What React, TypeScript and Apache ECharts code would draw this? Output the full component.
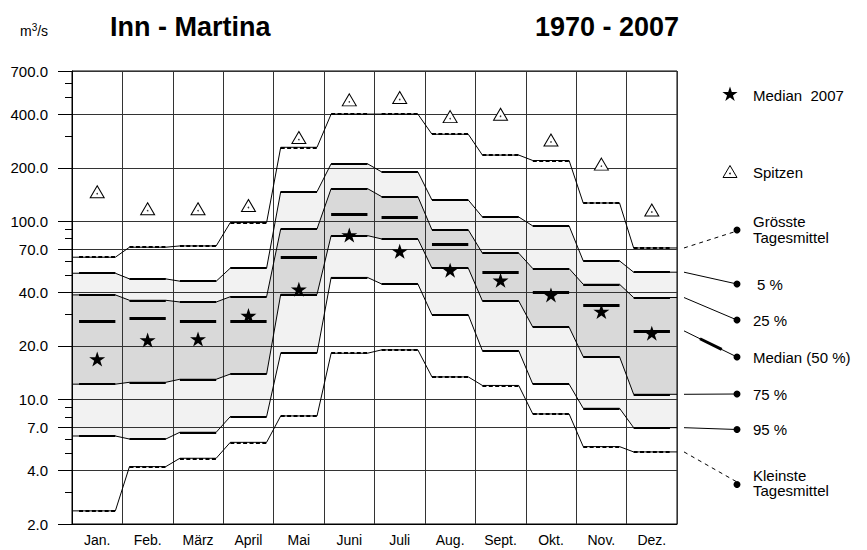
import React, { useEffect, useRef } from 'react';
import * as echarts from 'echarts';

const FONT = '"Liberation Sans", Arial, Helvetica, sans-serif';

const MONTHS = ['Jan.', 'Feb.', 'März', 'April', 'Mai', 'Juni', 'Juli', 'Aug.', 'Sept.', 'Okt.', 'Nov.', 'Dez.'];
const GROESSTE = [63, 71.7, 72.9, 98.6, 261, 401, 401, 309, 236, 220, 127, 71];
const P05 = [51.2, 47.6, 46.2, 54.7, 147, 211, 190, 132, 106, 94.4, 60.1, 51.9];
const P25 = [38.7, 36.1, 35.3, 37.8, 90.8, 153, 138, 89.7, 66.4, 54.4, 44.4, 37.4];
const MEDIAN = [27.4, 28.6, 27.6, 27.4, 62.7, 110, 105, 74.5, 51.9, 39.9, 33.7, 24.3];
const P75 = [12.2, 12.5, 13.0, 13.9, 39.0, 83.3, 79.8, 54.7, 35.8, 25.5, 17.4, 10.7];
const P95 = [6.24, 6.0, 6.55, 8.02, 18.2, 48.5, 44.6, 29.9, 18.8, 12.2, 8.93, 6.95];
const KLEINSTE = [2.37, 4.2, 4.68, 5.75, 8.09, 18.2, 19.0, 13.4, 12.0, 8.3, 5.44, 5.08];
const MEDIAN_2007 = [16.9, 21.6, 21.9, 29.6, 41.6, 84, 68.1, 53.3, 46.7, 38.7, 31.2, 23.6];
const SPITZEN = [147, 118, 118, 123, 296, 482, 497, 388, 400, 287, 210, 116];
const Y_TICKS = [2, 4, 7, 10, 20, 40, 70, 100, 200, 400, 700];
const Y_MINOR = [3, 5, 6, 8, 9, 30, 50, 60, 80, 90, 300, 500, 600];

const FLAT = 0.14;

function stepPoints(vals: number[]) {
  const pts: number[][] = [[0, vals[0]]];
  vals.forEach((v, i) => {
    pts.push([i + FLAT, v], [i + 1 - FLAT, v]);
  });
  pts.push([12, vals[vals.length - 1]]);
  return pts;
}

function flats(vals: number[]) {
  return vals.map((v, i) => [{ coord: [i + FLAT, v] }, { coord: [i + 1 - FLAT, v] }]);
}

function starPoints(cx: number, cy: number, R: number, r: number) {
  const pts: number[][] = [];
  for (let k = 0; k < 10; k++) {
    const rad = k % 2 === 0 ? R : r;
    const a = -Math.PI / 2 + (k * Math.PI) / 5;
    pts.push([cx + rad * Math.cos(a), cy + rad * Math.sin(a)]);
  }
  return pts;
}

const STAR_PATH =
  'path://' +
  starPoints(50, 50, 50, 19.1)
    .map((p, k) => (k ? 'L' : 'M') + p[0].toFixed(2) + ',' + p[1].toFixed(2))
    .join(' ') +
  ' Z';

function band(name: string, lower: number[], upper: number[], color: string, z: number) {
  const lo = stepPoints(lower);
  const up = stepPoints(upper);
  return {
    type: 'custom',
    name,
    silent: true,
    z,
    clip: false,
    data: [[6, upper[6]]],
    renderItem: (_params: any, api: any) => {
      const pts = [
        ...up.map((p) => api.coord(p)),
        ...lo
          .slice()
          .reverse()
          .map((p) => api.coord(p)),
      ];
      return { type: 'polygon', shape: { points: pts }, style: { fill: color, stroke: null } };
    },
  };
}

function pctLine(name: string, vals: number[], dashed: boolean) {
  return {
    type: 'line',
    name,
    data: stepPoints(vals),
    symbol: 'none',
    silent: true,
    z: 4,
    lineStyle: { color: '#000', width: 1 },
    markLine: {
      silent: true,
      symbol: ['none', 'none'],
      label: { show: false },
      lineStyle: { color: '#000', width: 2, type: dashed ? [4, 2.4] : 'solid' },
      data: flats(vals),
      z: 4,
    },
  };
}

function buildOption() {
  return {
    animation: false,
    grid: {
      left: 72,
      top: 71,
      width: 605,
      height: 453,
      show: true,
      borderColor: '#000',
      borderWidth: 1,
      backgroundColor: 'transparent',
      z: 3,
    },
    xAxis: [
      {
        type: 'value',
        min: 0,
        max: 12,
        interval: 1,
        z: 3,
        axisLine: { show: true, lineStyle: { color: '#000' } },
        axisTick: { show: false },
        axisLabel: { show: false },
        splitLine: { show: true, lineStyle: { color: '#333', width: 1 } },
      },
      {
        type: 'category',
        data: MONTHS,
        position: 'bottom',
        boundaryGap: true,
        z: 3,
        axisLine: { show: false },
        axisTick: { show: false },
        splitLine: { show: false },
        axisLabel: { fontSize: 14, color: '#000', margin: 9, fontFamily: FONT },
      },
    ],
    yAxis: [
      {
        type: 'log',
        logBase: 10,
        min: 2,
        max: 700,
        position: 'left',
        z: 3,
        axisLine: { show: true, lineStyle: { color: '#000' } },
        axisTick: { show: true, customValues: Y_TICKS, length: 14, lineStyle: { color: '#000' } },
        axisLabel: {
          customValues: Y_TICKS,
          formatter: (v: number) => Number(v).toFixed(1),
          fontSize: 15,
          color: '#000',
          margin: 24,
          fontFamily: FONT,
        },
        splitLine: { show: false },
      },
      {
        type: 'log',
        logBase: 10,
        min: 2,
        max: 700,
        position: 'left',
        offset: 0,
        z: 3,
        axisLine: { show: false },
        axisTick: { show: true, customValues: Y_MINOR, length: 7, lineStyle: { color: '#000' } },
        axisLabel: { show: false },
        splitLine: { show: false },
      },
    ],
    series: [
      band('5–95 %', P95, P05, '#f2f2f2', 1),
      band('25–75 %', P75, P25, '#d9d9d9', 2),
      {
        type: 'line',
        name: 'grid',
        data: [],
        silent: true,
        z: 3,
        markLine: {
          silent: true,
          symbol: ['none', 'none'],
          label: { show: false },
          lineStyle: { color: '#333', width: 1, type: 'solid' },
          data: Y_TICKS.map((v) => ({ yAxis: v })),
          z: 3,
        },
      },
      pctLine('Grösste Tagesmittel', GROESSTE, true),
      pctLine('5 %', P05, false),
      pctLine('25 %', P25, false),
      pctLine('75 %', P75, false),
      pctLine('95 %', P95, false),
      pctLine('Kleinste Tagesmittel', KLEINSTE, true),
      {
        type: 'scatter',
        name: 'Median (50 %)',
        data: MEDIAN.map((v, i) => [i + 0.5, v]),
        symbolSize: 0,
        silent: true,
        z: 4,
        markLine: {
          silent: true,
          symbol: ['none', 'none'],
          label: { show: false },
          lineStyle: { color: '#000', width: 3, type: 'solid' },
          data: flats(MEDIAN),
          z: 4,
        },
      },
      {
        type: 'scatter',
        name: 'Spitzen',
        data: SPITZEN.map((v, i) => [i + 0.5, v]),
        symbol: 'triangle',
        symbolSize: [14, 12],
        silent: true,
        z: 5,
        itemStyle: { color: '#fff', borderColor: '#000', borderWidth: 1, opacity: 1 },
      },
      {
        type: 'scatter',
        name: 'Spitzen-dot',
        data: SPITZEN.map((v, i) => [i + 0.5, v]),
        symbol: 'circle',
        symbolSize: 1.6,
        symbolOffset: [0, 2],
        silent: true,
        z: 6,
        itemStyle: { color: '#000' },
      },
      {
        type: 'scatter',
        name: 'Median 2007',
        data: MEDIAN_2007.map((v, i) => [i + 0.5, v]),
        symbol: STAR_PATH,
        symbolSize: [16, 15],
        silent: true,
        z: 6,
        itemStyle: { color: '#000', opacity: 1 },
      },
    ],
  };
}

export default function App() {
  const ref = useRef<HTMLDivElement>(null);
  useEffect(() => {
    const chart = echarts.init(ref.current as HTMLDivElement, null, { renderer: 'svg' });
    chart.setOption(buildOption() as any);

    const pt = (v: number) =>
      chart.convertToPixel({ xAxisIndex: 0, yAxisIndex: 0 } as any, [12, v]) as unknown as number[];
    const startX = pt(GROESSTE[11])[0] + 7;
    const DOT_X = 737;
    const TEXT_X = 753;

    const leader = (v: number, dotY: number, dashed: boolean) => ({
      type: 'line',
      shape: { x1: startX, y1: pt(v)[1], x2: DOT_X, y2: dotY },
      style: { stroke: '#000', lineWidth: 1, lineDash: dashed ? [4, 4] : null },
      silent: true,
    });
    const dot = (y: number) => ({
      type: 'circle',
      shape: { cx: DOT_X, cy: y, r: 3.5 },
      style: { fill: '#000' },
      silent: true,
    });
    const label = (text: string, y: number, x = TEXT_X) => ({
      type: 'text',
      x,
      y,
      style: {
        text,
        fill: '#000',
        font: `15px ${FONT}`,
        verticalAlign: 'middle',
      },
      silent: true,
    });

    const medY = pt(MEDIAN[11])[1];
    const medDotY = 357;
    const f1 = (700 - startX) / (DOT_X - startX);
    const f2 = (721.7 - startX) / (DOT_X - startX);

    chart.setOption({
      graphic: [
        {
          type: 'text',
          x: 20,
          y: 30,
          style: {
            text: '{m|m}{s|3}{m|/s}',
            verticalAlign: 'middle',
            rich: {
              m: { fontSize: 14, fontFamily: FONT, fill: '#000', verticalAlign: 'bottom' },
              s: { fontSize: 10, fontFamily: FONT, fill: '#000', verticalAlign: 'top', padding: [0, 0, 6, 0] },
            },
          },
        },
        {
          type: 'text',
          x: 110,
          y: 27,
          style: { text: 'Inn - Martina', fill: '#000', font: `bold 27px ${FONT}`, verticalAlign: 'middle' },
        },
        {
          type: 'text',
          x: 679,
          y: 27,
          style: {
            text: '1970 - 2007',
            fill: '#000',
            font: `bold 27px ${FONT}`,
            verticalAlign: 'middle',
            align: 'right',
          },
        },
        {
          type: 'polygon',
          shape: { points: starPoints(730, 94.5, 8, 3.1) },
          style: { fill: '#000' },
          silent: true,
        },
        label('Median  2007', 95),
        {
          type: 'polygon',
          shape: { points: [[723, 177.5], [737, 177.5], [730, 165.5]] },
          style: { fill: '#fff', stroke: '#000', lineWidth: 1 },
          silent: true,
        },
        { type: 'circle', shape: { cx: 730, cy: 173.5, r: 0.8 }, style: { fill: '#000' }, silent: true },
        label('Spitzen', 172),
        leader(GROESSTE[11], 231, true),
        dot(230),
        label('Grösste', 221.5),
        label('Tagesmittel', 237),
        leader(P05[11], 284, false),
        dot(284),
        label('5 %', 284, 757),
        leader(P25[11], 320, false),
        dot(320),
        label('25 %', 320),
        leader(MEDIAN[11], medDotY, false),
        {
          type: 'line',
          shape: {
            x1: startX + f1 * (DOT_X - startX),
            y1: medY + f1 * (medDotY - medY),
            x2: startX + f2 * (DOT_X - startX),
            y2: medY + f2 * (medDotY - medY),
          },
          style: { stroke: '#000', lineWidth: 3 },
          silent: true,
        },
        dot(medDotY),
        label('Median (50 %)', medDotY),
        leader(P75[11], 394, false),
        dot(394),
        label('75 %', 394),
        leader(P95[11], 429.5, false),
        dot(429.5),
        label('95 %', 429.5),
        leader(KLEINSTE[11], 482, true),
        dot(484.5),
        label('Kleinste', 475),
        label('Tagesmittel', 490.5),
      ],
    } as any);

    return () => chart.dispose();
  }, []);
  return <div ref={ref} style={{ position: 'absolute', left: 0, top: 0, width: 867, height: 550 }} />;
}
